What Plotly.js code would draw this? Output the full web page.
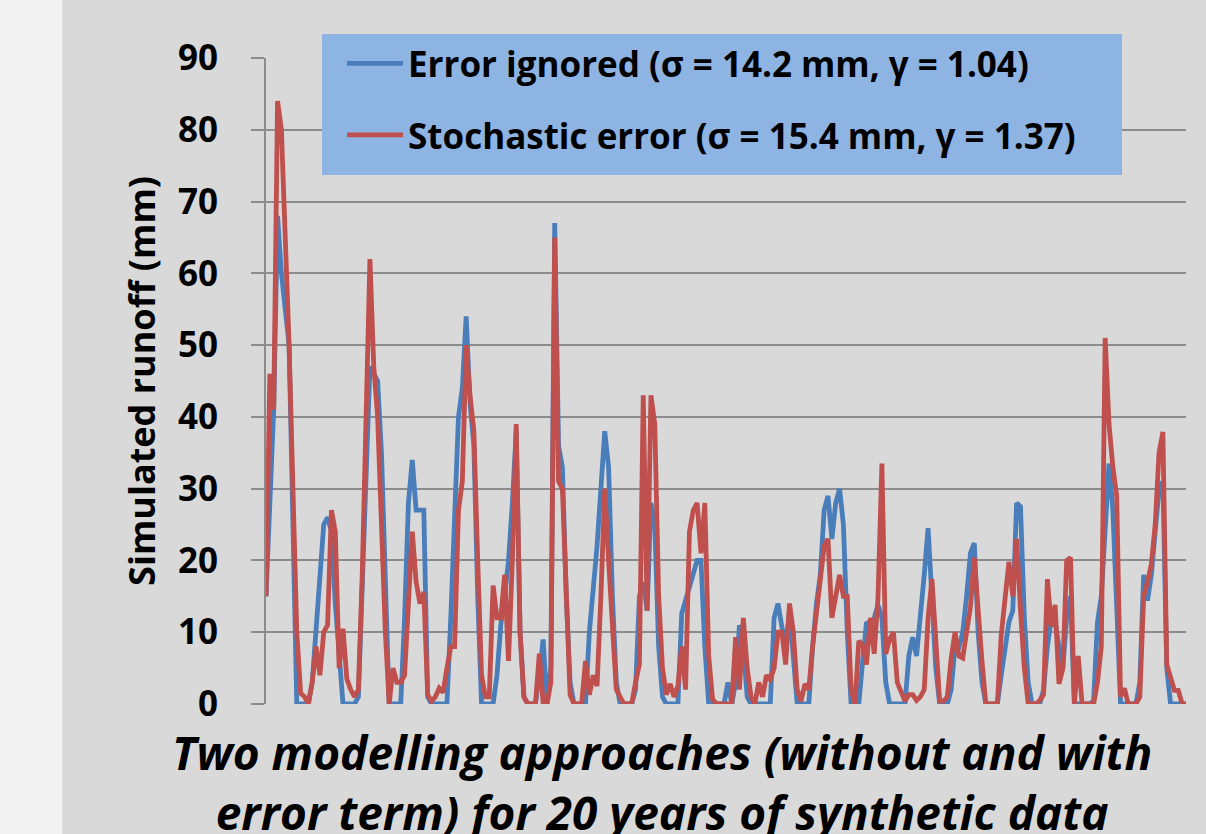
<!DOCTYPE html>
<html>
<head>
<meta charset="utf-8">
<script src="https://cdn.plot.ly/plotly-3.0.1.min.js"></script>
<style>
html,body{margin:0;padding:0;background:#d9d9d9;}
#chart{width:1206px;height:834px;}
</style>
</head>
<body>
<div id="chart"></div>
<script>
// Month index (20 years of monthly synthetic data)
const months = Array.from({length: 240}, (_, i) => i);

// Simulated runoff (mm), error ignored
const errorIgnored = [
15,28,41,68,60,55,50,25,0,0,0,0,
3,10,18,25,26,24,14,6,0,0,0,0,
1,15,32,47,46,45,35,15,0,0,0,0,
12,28,34,27,27,27,1,0,0,0,0,0,
12,28,40,44,54,42,36,15,0,0,0,0,
4,11,15,20,28,38,10,1,0,0,0,4,
9,0,5,67,36,33,15,3,0,0,0,0,
10,16,22,30,38,33,15,3,0,0,0,0,
2,15,17,13,28,25,8,1,0,0,0,0,
12.6,14.4,16,18,20,20,8,0,0,0,0,0,
3,0,3,11,8,1,0,0,0,0,0,0,
12,14,10.8,8,13,6,0,0,0,0,8,14,
18,27,29,23,28,30,25,10,0,0,0,6,
11.4,11,12,13.8,12,3,0,0,0,0,0,6.7,
9.3,6.7,12,18,24.5,16,5,0,0,0,2,8,
7.9,10,15,21,22.4,10,3,0,0,0,0,4,
8,11.4,13,28,27.5,12,3,0,0,0,2,8,
12,11.4,8,5,12,15,0,0,0,0,0,0.5,
11.4,15,25,33.5,27,15,0,0,0,0,0,3,
18,14.4,18,24,29.9,31,5,0,0,0,0,0
];

// Simulated runoff (mm), stochastic error
const stochasticError = [
15,46,41,84,80,65,50,30,10,1.5,1,0,
3,8,4,10,11,27,24,5,10.5,3.5,2,1,
2,18,42,62,47,40,25,10,0,5,3,3,
4,14,24,17,14,15.6,1.3,0.4,1,2.2,1.6,5,
8,8,27,31,50,43,38,20,4,1,1,16.5,
12,12,18,6,20,39,10,1,0,0,0,7,
0,0,3,65,31,30,15,1.3,0,0,0,6,
1.3,4,2.5,15,30,20,10,2,1,0,0,0,
3,5.5,43,13,43,39,15,5,1.3,2.8,1,2.5,
8,2,24,27,28,21,28,6.7,0.7,0,0,0,
0,0,9.3,2,12,5,1,0,3,1,4,3.4,
5,10,10,5.5,14,10,2,0.4,2.8,2,8,13,
17,22,23,12,15,18,15,15,2,0,8.8,8.2,
5.5,12,7,15,33.5,7,9,10,3,1.6,0.4,1.3,
1.3,0.5,1,2,12,17.4,8,0.4,0.4,1,6.4,10,
6.7,6.4,10,13.5,20.4,12,6,0,0,0,0,9.6,
15,19.8,15,23,13,5,0,0,0,0.5,1.3,17.4,
10.8,13.8,2.8,4.9,20,20.4,0,6.7,0,0,0,0,
3,8,51,39,33,29,1,2.2,0,0,0,1,
15,17,19.5,25,35,37.9,5.5,3.7,1.9,1.9,0,0
];

const seriesNames = [
  'Error ignored (σ = 14.2 mm, γ = 1.04)',
  'Stochastic error (σ = 15.4 mm, γ = 1.37)'
];
const yTicks = [0,10,20,30,40,50,60,70,80,90];
const yTitle = 'Simulated runoff (mm)';
const xTitle = 'Two modelling approaches (without and with<br>error term) for 20 years of synthetic data';

const FONT = '"Open Sans", Lato, "Liberation Sans", sans-serif';
const GRID = '#8c8c8c';

const traces = [
  {x: months, y: errorIgnored, name: seriesNames[0], type: 'scatter', mode: 'lines',
   line: {color: '#4A7EBB', width: 4.8}, legendgroup: 'a'},
  {x: months, y: stochasticError, name: seriesNames[1], type: 'scatter', mode: 'lines',
   line: {color: '#C0504D', width: 4.8}, legendgroup: 'b'}
];

const layout = {
  width: 1206, height: 834,
  margin: {l: 266, r: 20, t: 58, b: 130},
  paper_bgcolor: '#d9d9d9',
  plot_bgcolor: '#d9d9d9',
  font: {family: FONT, color: '#000000'},
  showlegend: true,
  xaxis: {
    range: [0, 239], showgrid: false, zeroline: false, showticklabels: false,
    ticks: '', showline: false, fixedrange: true
  },
  yaxis: {
    range: [0, 90], tickvals: yTicks, ticktext: yTicks.map(String),
    showgrid: true, gridcolor: GRID, gridwidth: 2, zeroline: false,
    ticks: 'outside', ticklen: 13, tickwidth: 2, tickcolor: GRID,
    showline: true, linecolor: GRID, linewidth: 2,
    ticklabelstandoff: 26,
    tickfont: {family: FONT, size: 35, color: '#000', weight: 'bold'},
    title: {text: yTitle, standoff: 11, font: {family: FONT, size: 36, color: '#000', weight: 'bold'}}
  },
  legend: {
    x: 0.0826, y: 1.037, xanchor: 'left', yanchor: 'top',
    bgcolor: 'rgba(0,0,0,0)', borderwidth: 0,
    font: {family: FONT, size: 35, color: '#000', weight: 'bold'},
    traceorder: 'grouped', tracegroupgap: 23, itemwidth: 56
  },
  shapes: [
    {type: 'rect', xref: 'paper', yref: 'paper', x0: -0.2891, x1: -0.2217, y0: -0.2012, y1: 1.0898,
     fillcolor: '#f2f2f2', line: {width: 0}, layer: 'below'},
    {type: 'rect', xref: 'paper', yref: 'paper', x0: 0.0609, x1: 0.9304, y0: 0.8189, y1: 1.037,
     fillcolor: '#8EB4E3', line: {width: 0}, layer: 'above'}
  ],
  annotations: [
    {text: xTitle, xref: 'paper', yref: 'paper', x: 0.4304, y: -0.024, xanchor: 'center', yanchor: 'top',
     showarrow: false, align: 'center', borderpad: 0,
     font: {family: FONT, size: 46, color: '#000', weight: 'bold', style: 'italic'}}
  ]
};

Plotly.newPlot('chart', traces, layout, {displayModeBar: false, staticPlot: true});
</script>
</body>
</html>
